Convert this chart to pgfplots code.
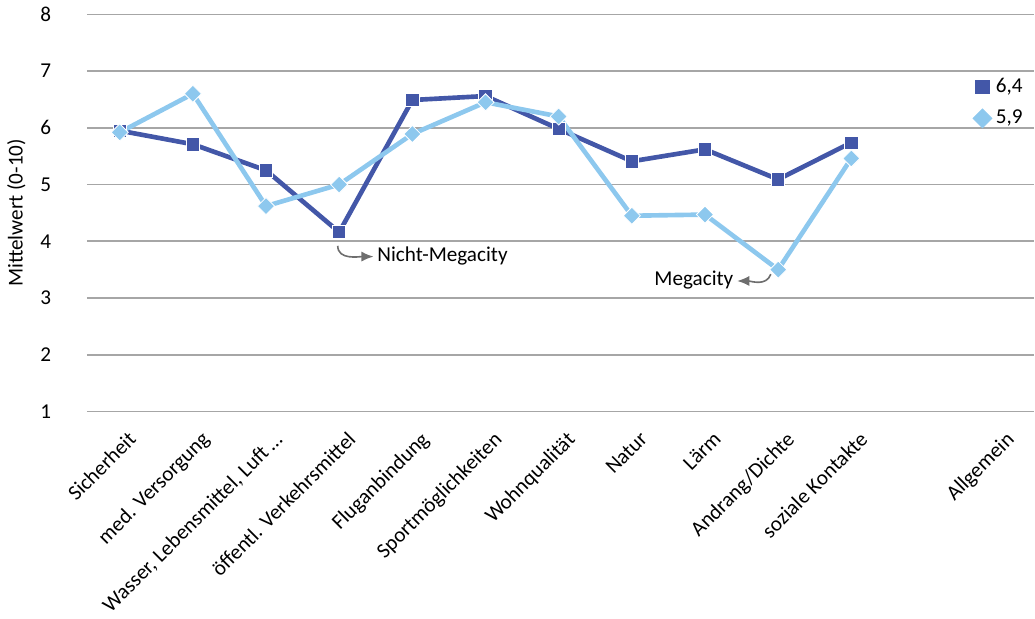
\documentclass[border=0pt]{standalone}
\usepackage{fontspec}
\setmainfont{Carlito}
\usepackage{pgfplots}
\pgfplotsset{compat=1.18}
\usetikzlibrary{arrows.meta}
\definecolor{dunkel}{HTML}{4357A8}
\definecolor{hell}{HTML}{8DC8EE}
\definecolor{gitter}{HTML}{A6A6A6}
\definecolor{pfeil}{HTML}{6E6E6E}

\begin{document}
\fontsize{10.5}{12.5}\selectfont
\begin{tikzpicture}
\begin{axis}[
  scale only axis,
  width=470pt, height=197pt,
  xmin=-0.45, xmax=12.5, ymin=1, ymax=8,
  ytick={1,...,8},
  xtick={0,...,10,12},
  xticklabels={Sicherheit, med. Versorgung, {Wasser, Lebensmittel, Luft \dots}, öffentl. Verkehrsmittel, Fluganbindung, Sportmöglichkeiten, Wohnqualität, Natur, Lärm, Andrang/Dichte, soziale Kontakte, Allgemein},
  xticklabel style={rotate=45, anchor=north east, inner sep=1pt, yshift=-8pt, xshift=-3pt},
  yticklabel style={xshift=-14pt},
  /pgf/number format/assume math mode=true,
  axis line style={draw=none},
  tick style={draw=none},
  ymajorgrids,
  grid style={gitter, line width=0.8pt},
  ylabel={Mittelwert (0-10)},
  every axis y label/.style={at={(axis description cs:0,0.5)}, xshift=-35pt, rotate=90, anchor=center},
  legend style={draw=none, fill=none, at={(axis description cs:0.935,0.85)}, anchor=north west, row sep=3pt, inner sep=0pt},
  legend cell align=left,
  clip=false,
]
\addlegendimage{only marks, mark=square*, mark size=3.3pt, mark options={fill=dunkel, draw=dunkel}}
\addlegendentry{6,4}
\addlegendimage{only marks, mark=square*, mark size=3.3pt, mark options={fill=hell, draw=hell, rotate=45}}
\addlegendentry{5,9}

\addplot[forget plot, dunkel, line width=2.3pt, mark=square*, mark size=3.3pt, mark options={fill=dunkel, draw=white, line width=0.4pt}]
  coordinates {(0,5.95) (1,5.71) (2,5.25) (3,4.16) (4,6.49) (5,6.56) (6,5.98) (7,5.41) (8,5.62) (9,5.09) (10,5.74)};
\addplot[forget plot, hell, line width=2.3pt, mark=square*, mark size=3pt, mark options={fill=hell, draw=white, line width=0.4pt, rotate=45}]
  coordinates {(0,5.92) (1,6.60) (2,4.62) (3,5.00) (4,5.89) (5,6.45) (6,6.20) (7,4.45) (8,4.47) (9,3.50) (10,5.46)};

\draw[pfeil, line width=0.8pt, -{Latex[length=6pt,width=5pt]}] (axis cs:2.98,3.92) to[out=-90,in=180] (axis cs:3.47,3.73);
\node[anchor=west, inner sep=1pt] at (axis cs:3.49,3.74) {Nicht-Megacity};
\draw[pfeil, line width=0.8pt, -{Latex[length=6pt,width=5pt]}] (axis cs:8.9,3.42) to[out=-110,in=0] (axis cs:8.44,3.30);
\node[anchor=east, inner sep=1pt] at (axis cs:8.42,3.31) {Megacity};
\end{axis}
\end{tikzpicture}
\end{document}
